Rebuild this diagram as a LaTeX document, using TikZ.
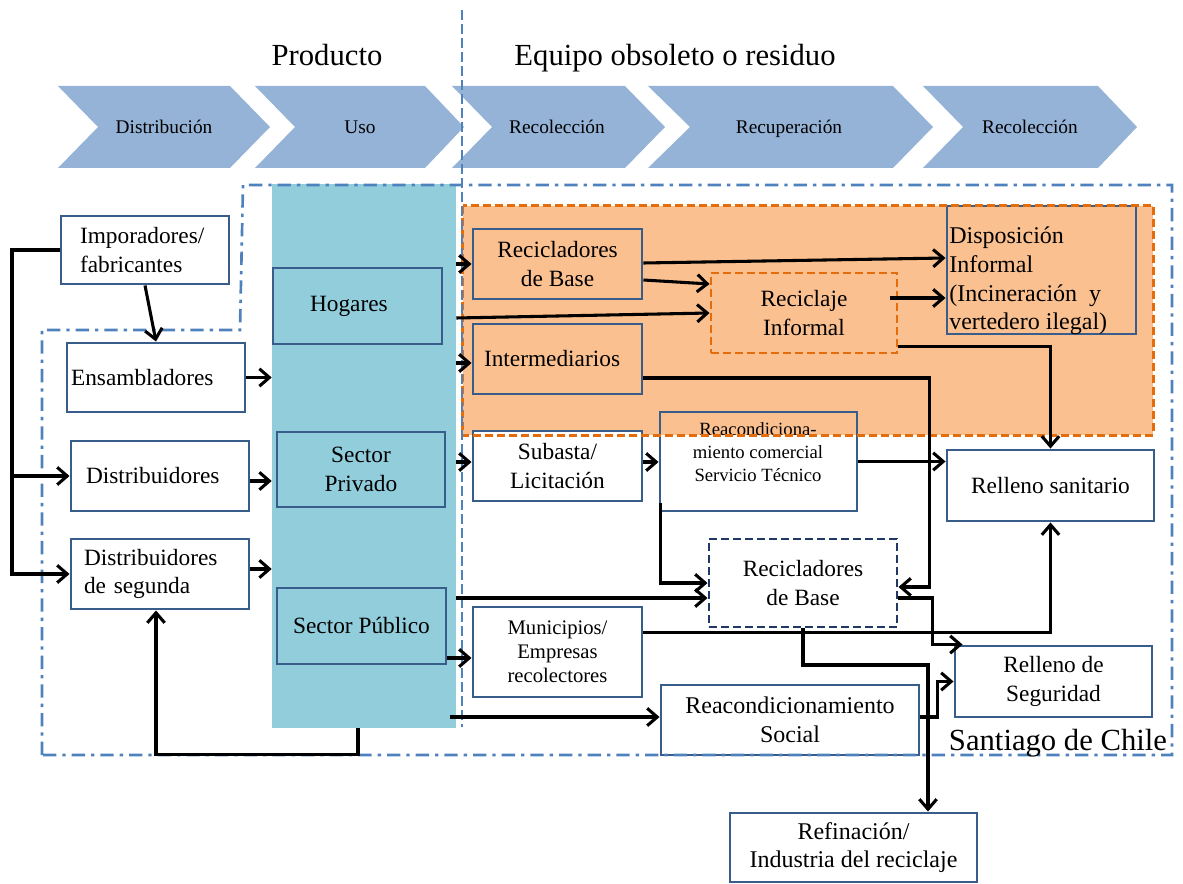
\documentclass[tikz,border=0pt]{standalone}
\usepackage{fontspec}
\setmainfont{Liberation Serif}
\usetikzlibrary{arrows.meta,calc}
\definecolor{chevfill}{HTML}{95B3D7}
\definecolor{colfill}{HTML}{92CDDC}
\definecolor{orfill}{HTML}{FAC090}
\definecolor{orline}{HTML}{E46C0A}
\definecolor{boxline}{HTML}{385D8A}
\definecolor{navyline}{HTML}{1F3864}
\definecolor{bndblue}{HTML}{4F81BD}
\newcommand\fnode{\fontsize{17.5}{21.5}\selectfont}
\newcommand\fbig{\fontsize{18}{21.5}\selectfont}
\newcommand\fchev{\fontsize{14.5}{17}\selectfont}
\newcommand\ftitle{\fontsize{23}{27}\selectfont}
\newcommand\fsmall{\fontsize{14}{17}\selectfont}
\newcommand\fmuni{\fontsize{15.5}{18}\selectfont}
\tikzset{
 corners/.style n args={4}{at={({(#1+#3)/2},{(#2+#4)/2})}, minimum width={(#3-#1)*0.75pt}, minimum height={(#4-#2)*0.75pt}},
 box/.style={draw=boxline, line width=2.2pt, fill=white, inner sep=2pt, align=center, font=\fnode},
 obox/.style={box, fill=orfill},
 arr/.style={line width=2.3pt, -{Straight Barb[length=7.5pt,width=13pt]}},
 chevlbl/.style={font=\fchev, inner sep=0pt, anchor=base},
 dashdotline/.style={draw=bndblue, line width=2pt, dash pattern=on 10pt off 4.5pt on 2.5pt off 4.5pt},
 dashedbox/.style={dash pattern=on 6pt off 3pt},
}
\begin{document}
\begin{tikzpicture}[x=0.75pt,y=-0.75pt]
\useasboundingbox (0,0) rectangle (1183,884);
% chevrons
\fill[chevfill] (58,86) -- (230,86) -- (270,127) -- (230,168) -- (58,168) -- (98,127) -- cycle;
\fill[chevfill] (255,86) -- (425,86) -- (464,127) -- (425,168) -- (255,168) -- (295,127) -- cycle;
\fill[chevfill] (452,86) -- (625,86) -- (665,127) -- (625,168) -- (452,168) -- (492,127) -- cycle;
\fill[chevfill] (648,86) -- (893,86) -- (933,127) -- (893,168) -- (648,168) -- (690,127) -- cycle;
\fill[chevfill] (923,86) -- (1098,86) -- (1137,127) -- (1098,168) -- (923,168) -- (963,127) -- cycle;
\node[chevlbl] (cv1) at (164,134) {Distribución};
\node[chevlbl] (cv2) at (360,134) {Uso};
\node[chevlbl] (cv3) at (557,134) {Recolección};
\node[chevlbl] (cv4) at (789,134) {Recuperación};
\node[chevlbl] (cv5) at (1030,134) {Recolección};
% titles
\node[font=\ftitle, anchor=base] (t1) at (327,66) {Producto};
\node[font=\ftitle, anchor=base] (t2) at (675,66) {Equipo obsoleto o residuo};
% regions
\node[fill=colfill, corners={272}{184}{456}{728}] (col) {};
\node[fill=orfill, corners={463}{206}{1153}{435}] (inf) {};
% left boxes
\node[box, corners={61}{216}{229}{284}, align=left, text width=97.5pt, inner xsep=14.25pt] (impo) {Imporadores/\\fabricantes};
\node[box, corners={67}{343}{245}{412}, align=left, text width=127.5pt, inner xsep=3pt] (ensa) {Ensambladores};
\node[box, corners={71}{441}{249}{511}, align=left, text width=111pt, inner xsep=11.25pt] (dist) {Distribuidores};
\node[box, corners={71}{539}{249}{609}, align=left, text width=114pt, inner xsep=9.75pt] (dseg) {Distribuidores\\de segunda};
\node[box, fill=colfill, corners={273}{268}{442}{344}, align=left, text width=71.25pt, inner xsep=27.75pt] (hog) {Hogares};
\node[box, fill=colfill, corners={277}{432}{445}{507}] (spriv) {Sector\\Privado};
\node[box, fill=colfill, corners={277}{588}{446}{664}] (spub) {Sector Público};
% right boxes
\node[obox, corners={473}{229}{642}{299}] (rb1) {Recicladores\\de Base};
\node[obox, corners={473}{324}{642}{394}, align=left, text width=110.25pt, inner xsep=8.25pt] (inter) {Intermediarios};
\node[obox, draw=orline, dashedbox, corners={711}{273}{897}{353}] (recinf) {Reciclaje\\Informal};
\node[obox, corners={947}{206}{1136}{334}] (disp) {};
\node[font=\fbig, align=left, anchor=west, inner sep=0pt] (disptxt) at (949,281) {Disposición\\Informal\\(Incineración\ \ y\\vertedero ilegal)};
\node[box, corners={473}{431}{642}{501}] (sub) {Subasta/\\Licitación};
\node[box, fill=none, corners={660}{412}{857}{511}] (reacc) {};
\node[font=\fsmall, align=center, inner sep=0pt] (reacctxt) at (758,452) {Reacondiciona-\\miento comercial\\Servicio Técnico};
\node[box, corners={947}{450}{1154}{521}] (rsan) {Relleno sanitario};
\node[box, draw=navyline, dashedbox, corners={709}{539}{897}{627}] (rb2) {Recicladores\\de Base};
\node[box, corners={473}{607}{642}{697}, font=\fmuni] (muni) {Municipios/\\Empresas\\recolectores};
\node[box, corners={955}{646}{1152}{717}] (rseg) {Relleno de\\Seguridad};
\node[box, corners={661}{685}{919}{755}, font=\fbig] (rsoc) {Reacondicionamiento\\Social};
\node[box, corners={730}{813}{977}{882}, font=\fbig] (refi) {Refinación/\\Industria del reciclaje};
% orange region border on top
\draw[orline, line width=2.3pt, dashedbox] (inf.north west) rectangle (inf.south east);
% Santiago boundary
\draw[dashdotline] (42,755) -- (42,330) -- (240,330) -- (243,185) -- (1172,185) -- (1172,755) -- cycle;
\draw[bndblue, line width=2pt, dash pattern=on 7.5pt off 3pt] (462,10) -- (462,727);
\node[font=\ftitle, anchor=base] (stgo) at (1058,750) {Santiago de Chile};
% connectors
\coordinate (L) at (12,250);
\draw[arr] (impo.west) -- (L) |- (dseg.west);
\draw[arr] (L |- dist.west) -- (dist.west);
\draw[arr] (impo.south) -- (ensa.north);
\draw[arr] (ensa.east) -- (ensa.east -| col.west);
\draw[arr] ($(dist.east)+(0,5)$) -- ($(dist.east -| col.west)+(0,5)$);
\draw[arr] ($(dseg.east)+(0,-5)$) -- ($(dseg.east -| col.west)+(0,-5)$);
\draw[arr] ($(col.south)+(-6,0)$) -- ++(0,26) -| ($(dseg.south)+(-4,0)$);
\draw[arr] (col.east |- rb1.west) -- (rb1.west);
\draw[arr] ($(col.east |- recinf.west)+(0,5)$) -- (recinf.west);
\draw[arr] ($(col.east |- inter.west)+(0,4)$) -- ($(inter.west)+(0,4)$);
\draw[arr] ($(col.east |- sub.west)+(0,-4)$) -- ($(sub.west)+(0,-4)$);
\draw[arr] ($(rb1.east)+(0,-1)$) -- ($(disp.west)+(0,-12)$);
\draw[arr] ($(rb1.east)+(0,16)$) -- ($(recinf.west)+(0,-29)$);
\coordinate (r13) at ($(recinf.east)+(-8,-15)$);
\draw[arr] (r13) -- (r13 -| disp.west);
\draw[arr] ($(recinf.south east)+(0,-8)$) -| (rsan.north);
\draw[arr] ($(inter.east)+(0,19)$) -| ($(rb2.east)+(31,4)$) -- ($(rb2.east)+(0,4)$);
\draw[arr] ($(sub.east)+(0,-4)$) -- ($(sub.east -| reacc.west)+(0,-4)$);
\draw[arr] (reacc.east) -- (reacc.east -| rsan.west);
\draw[arr] ($(reacc.south west)+(2,-9)$) |- (rb2.west);
\draw[arr] ($(col.east |- rb2.west)+(0,15)$) -- ($(rb2.west)+(0,15)$);
\draw[arr] ($(spub.east |- muni.west)+(0,6)$) -- ($(muni.west)+(0,6)$);
\draw[arr] ($(muni.north east)+(0,27)$) -| (rsan.south);
\draw[arr] ($(rb2.east)+(0,15)$) -- ++(34,0) |- ($(rseg.north west)+(9,0)$);
\coordinate (c23) at (928,665);
\draw[arr] (rb2.south) |- (c23) -- (c23 |- refi.north);
\draw[arr] ($(rsoc.east)+(0,-3)$) -- ++(17,0) |- (rseg.west);
\draw[arr] ($(col.east |- rsoc.west)+(-6,-3)$) -- ($(rsoc.west)+(0,-3)$);
\end{tikzpicture}
\end{document}
